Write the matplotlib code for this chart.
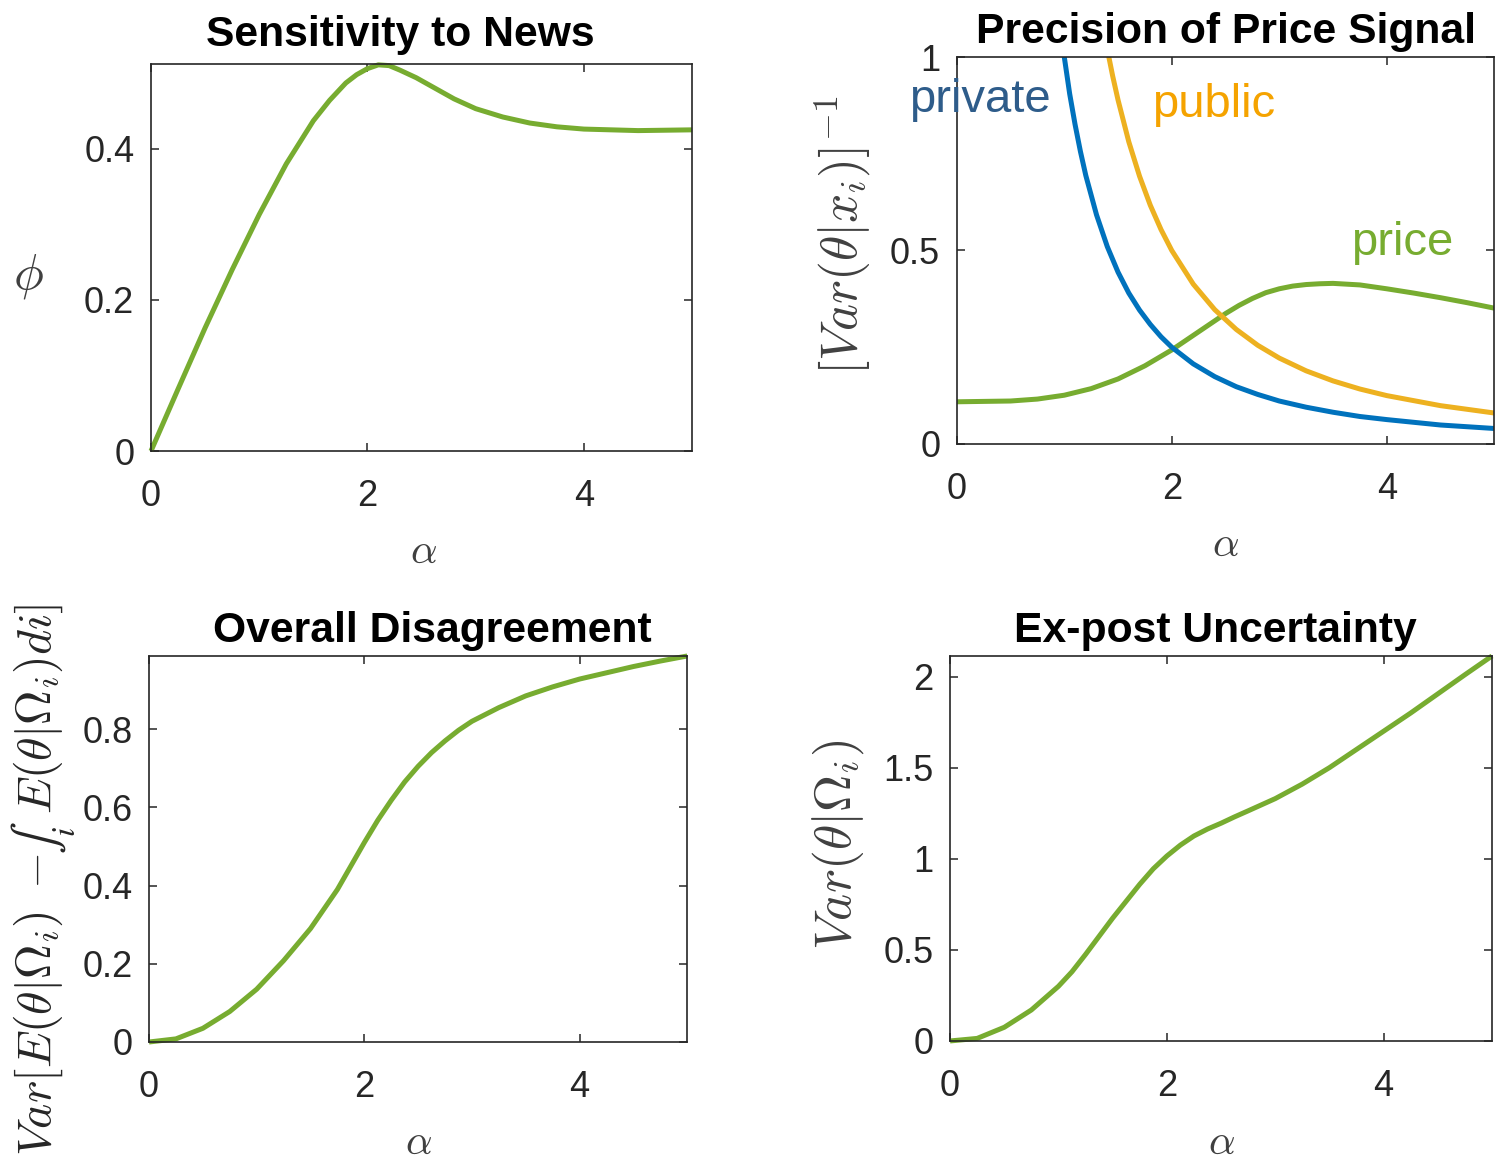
import matplotlib
matplotlib.use('Agg')
import matplotlib.pyplot as plt

plt.rcParams['font.family'] = ['Liberation Sans', 'DejaVu Sans']
plt.rcParams['mathtext.fontset'] = 'cm'

# ---- data ------------------------------------------------------------------
# Sensitivity to News
alpha_phi = [0, 0.25, 0.5, 0.75, 1.0, 1.25, 1.5, 1.65, 1.8, 1.9, 2.0, 2.1, 2.2, 2.3,
             2.45, 2.6, 2.8, 3.0, 3.25, 3.5, 3.75, 4.0, 4.5, 5.0]
phi = [0, 0.082, 0.163, 0.24, 0.313, 0.38, 0.437, 0.464, 0.487, 0.498, 0.506, 0.511,
       0.510, 0.504, 0.494, 0.482, 0.466, 0.453, 0.442, 0.434, 0.429, 0.426, 0.424, 0.425]

# Precision of Price Signal
alpha_price = [0, 0.5, 0.75, 1.0, 1.25, 1.5, 1.75, 2.0, 2.25, 2.5, 2.625, 2.75, 2.875,
               3.0, 3.125, 3.25, 3.375, 3.5, 3.75, 4.0, 4.25, 4.5, 4.75, 5.0]
price_prec = [0.109, 0.111, 0.116, 0.126, 0.143, 0.168, 0.202, 0.243, 0.29, 0.337,
              0.358, 0.376, 0.391, 0.401, 0.408, 0.412, 0.414, 0.415, 0.411, 0.401,
              0.39, 0.378, 0.365, 0.351]

alpha_private = [0.95, 1.0, 1.05, 1.1, 1.15, 1.2, 1.3, 1.4, 1.5, 1.6, 1.7, 1.8, 1.9,
                 2.0, 2.2, 2.4, 2.6, 2.8, 3.0, 3.25, 3.5, 3.75, 4.0, 4.5, 5.0]
private_prec = [1.11, 1.0, 0.905, 0.826, 0.756, 0.694, 0.592, 0.51, 0.444, 0.39, 0.346,
                0.309, 0.277, 0.25, 0.207, 0.174, 0.148, 0.128, 0.111, 0.095, 0.082,
                0.071, 0.063, 0.049, 0.04]

alpha_public = [1.35, 1.4, 1.45, 1.5, 1.6, 1.7, 1.8, 1.9, 2.0, 2.2, 2.4, 2.6, 2.8, 3.0,
                3.25, 3.5, 3.75, 4.0, 4.5, 5.0]
public_prec = [1.10, 1.02, 0.951, 0.889, 0.781, 0.692, 0.617, 0.554, 0.5, 0.413, 0.347,
               0.296, 0.255, 0.222, 0.189, 0.163, 0.142, 0.125, 0.099, 0.08]

# Overall Disagreement
alpha_dis = [0, 0.25, 0.5, 0.75, 1.0, 1.25, 1.5, 1.75, 2.0, 2.125, 2.25, 2.375, 2.5,
             2.625, 2.75, 2.875, 3.0, 3.25, 3.5, 3.75, 4.0, 4.25, 4.5, 4.75, 5.0]
disagreement = [0, 0.008, 0.035, 0.078, 0.135, 0.208, 0.29, 0.39, 0.51, 0.567, 0.618,
                0.665, 0.705, 0.74, 0.77, 0.797, 0.82, 0.855, 0.885, 0.908, 0.928,
                0.944, 0.96, 0.974, 0.987]

# Ex-post Uncertainty
alpha_unc = [0, 0.25, 0.5, 0.75, 1.0, 1.125, 1.25, 1.5, 1.75, 1.875, 2.0, 2.125, 2.25,
             2.375, 2.5, 2.625, 2.75, 3.0, 3.25, 3.5, 3.75, 4.0, 4.25, 4.5, 4.75, 5.0]
uncertainty = [0, 0.014, 0.075, 0.17, 0.30, 0.38, 0.475, 0.674, 0.86, 0.945, 1.015,
               1.075, 1.125, 1.163, 1.195, 1.23, 1.263, 1.33, 1.41, 1.50, 1.60, 1.70,
               1.80, 1.905, 2.01, 2.113]

GREEN = '#77AC30'
BLUE = '#0072BD'
ORANGE = '#EDB120'
GREY = '#262626'
LABEL = '#404040'


def style_axes(ax, yticks, yticklabels, ymax):
    ax.set_xlim(0, 5)
    ax.set_ylim(0, ymax)
    ax.set_xticks([0, 2, 4])
    ax.set_xticklabels(['0', '2', '4'])
    ax.set_yticks(yticks)
    ax.set_yticklabels(yticklabels)
    ax.tick_params(direction='in', length=6, width=1.1, top=True, right=True,
                   labelsize=26, colors=GREY)
    ax.tick_params(axis='x', pad=20)
    ax.tick_params(axis='y', pad=12)
    for s in ax.spines.values():
        s.set_color(GREY)
        s.set_linewidth(1.2)


def curve(ax, x, y, color):
    ax.plot(x, y, color=color, linewidth=3.6, solid_joinstyle='round',
            solid_capstyle='butt', clip_on=False)


fig = plt.figure(figsize=(14.95, 11.61), dpi=100)

# Sensitivity to News ---------------------------------------------------------
ax1 = fig.add_axes([0.101, 0.6115, 0.362, 0.3333])
curve(ax1, alpha_phi, phi, GREEN)
style_axes(ax1, [0, 0.2, 0.4], ['0', '0.2', '0.4'], 0.512)
ax1.set_title('Sensitivity to News', fontsize=30.7, fontweight='bold', pad=13, x=0.46)
ax1.set_ylabel(r'$\phi$', fontsize=36, color=LABEL, rotation=0, va='center', ha='center')
ax1.yaxis.set_label_coords(-0.227, 0.45)
ax1.set_xlabel(r'$\alpha$', fontsize=30, color=LABEL, va='center')
ax1.xaxis.set_label_coords(0.503, -0.261)

# Precision of Price Signal -----------------------------------------------------
ax2 = fig.add_axes([0.640, 0.6176, 0.3595, 0.3333])
ax2.plot(alpha_price, price_prec, color=GREEN, linewidth=3.6, solid_joinstyle='round')
ax2.plot(alpha_private, private_prec, color=BLUE, linewidth=3.6, solid_joinstyle='round')
ax2.plot(alpha_public, public_prec, color=ORANGE, linewidth=3.6, solid_joinstyle='round')
style_axes(ax2, [0, 0.5, 1], ['0', '0.5', '1'], 1)
ax2.set_title('Precision of Price Signal', fontsize=30.7, fontweight='bold', pad=10)
ax2.set_ylabel(r'$[Var(\theta|x_i)]^{-1}$', fontsize=37, color=LABEL, va='center')
ax2.yaxis.set_label_coords(-0.212, 0.54)
ax2.set_xlabel(r'$\alpha$', fontsize=30, color=LABEL, va='center')
ax2.xaxis.set_label_coords(0.5, -0.261)
ax2.text(-0.44, 0.89, 'private', color='#2E5C8A', fontsize=34, ha='left', va='center', clip_on=False)
ax2.text(1.82, 0.876, 'public', color='#F5A300', fontsize=34, ha='left', va='center')
ax2.text(3.67, 0.519, 'price', color=GREEN, fontsize=34, ha='left', va='center')

# Overall Disagreement ----------------------------------------------------------
ax3 = fig.add_axes([0.0997, 0.1025, 0.360, 0.3325])
curve(ax3, alpha_dis, disagreement, GREEN)
style_axes(ax3, [0, 0.2, 0.4, 0.6, 0.8], ['0', '0.2', '0.4', '0.6', '0.8'], 0.987)
ax3.set_title('Overall Disagreement', fontsize=30.7, fontweight='bold', pad=10, x=0.526)
ax3.set_xlabel(r'$\alpha$', fontsize=30, color=LABEL, va='center')
ax3.xaxis.set_label_coords(0.5, -0.262)

# y-label of this panel is built from three rotated pieces so the integral
# sign stays text-sized (as in the original LaTeX label)
pieces = [(r'$Var[E(\theta|\Omega_i)\;-\;$', 'cm'),
          (r'$\int_i$', 'stix'),
          (r'$\,E(\theta|\Omega_i)di]$', 'cm')]
label_len = 554.0       # pixels along the figure height
label_mid = 1161 - 880  # pixels from the bottom
label_x = 51.0          # baseline, pixels from the left
renderer = fig.canvas.get_renderer()
fs = 30.0
for _ in range(2):
    texts = [fig.text(0, 0, s, fontsize=fs, rotation=90, rotation_mode='anchor',
                      ha='left', va='baseline', color=GREY, math_fontfamily=mf,
                      transform=None)
             for s, mf in pieces]
    lengths = [t.get_window_extent(renderer).height for t in texts]
    total = sum(lengths)
    if abs(total - label_len) < 2:
        break
    for t in texts:
        t.remove()
    fs = fs * label_len / total
y0 = label_mid - total / 2.0
for t, ln in zip(texts, lengths):
    t.set_position((label_x, y0))
    y0 += ln

# Ex-post Uncertainty -----------------------------------------------------------
ax4 = fig.add_axes([0.6355, 0.1034, 0.3625, 0.3316])
curve(ax4, alpha_unc, uncertainty, GREEN)
style_axes(ax4, [0, 0.5, 1, 1.5, 2], ['0', '0.5', '1', '1.5', '2'], 2.113)
ax4.set_title('Ex-post Uncertainty', fontsize=30.7, fontweight='bold', pad=10, x=0.49)
ax4.set_ylabel(r'$Var(\theta|\Omega_i)$', fontsize=37, color=LABEL, va='center')
ax4.yaxis.set_label_coords(-0.207, 0.51)
ax4.set_xlabel(r'$\alpha$', fontsize=30, color=LABEL, va='center')
ax4.xaxis.set_label_coords(0.5, -0.265)

fig.savefig('out.png', dpi=100)
